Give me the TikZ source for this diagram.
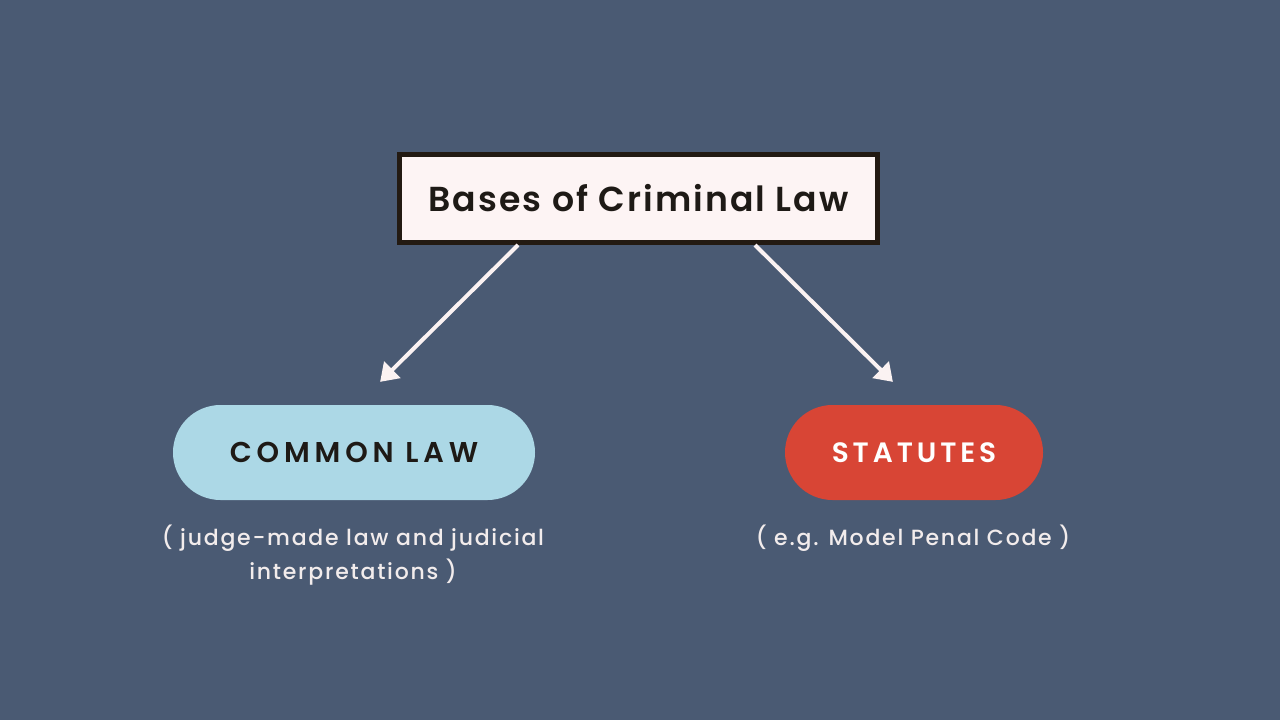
\documentclass[tikz,border=0pt]{standalone}
\usepackage{fontspec}
\setmainfont{Poppins}[BoldFont={Poppins SemiBold}]
\newfontfamily\medfont{Poppins Medium}
\usetikzlibrary{arrows.meta}
\definecolor{bg}{HTML}{4A5A73}
\definecolor{boxfill}{HTML}{FDF4F4}
\definecolor{boxline}{HTML}{231A12}
\definecolor{arrowc}{HTML}{FBF2F2}
\definecolor{pillblue}{HTML}{ACD8E6}
\definecolor{pillred}{HTML}{D84535}
\definecolor{darktext}{HTML}{1E1A16}
\definecolor{subtext}{HTML}{F2ECEC}
\tikzset{
  titlebox/.style={draw=boxline, fill=boxfill, line width=3.75pt, minimum width=358pt, minimum height=66pt, inner sep=0pt, font=\fontsize{26}{30}\selectfont\addfontfeatures{LetterSpace=6}, text=darktext},
  pill/.style={rounded corners=35.6pt, minimum height=71.25pt, inner sep=0pt},
  pillblue/.style={pill, fill=pillblue, minimum width=271.5pt, text=darktext, font=\fontsize{21.5}{24}\selectfont\addfontfeatures{LetterSpace=17}},
  pillred/.style={pill, fill=pillred, minimum width=193.5pt, text=white, font=\fontsize{21}{24}\selectfont\addfontfeatures{LetterSpace=14}},
  subnote/.style={text=subtext, align=center, font=\medfont\fontsize{16.5}{25.5}\selectfont\addfontfeatures{LetterSpace=8}},
  conn/.style={draw=arrowc, line width=3pt, -{Triangle[length=13pt,width=17pt]}, shorten >=-2pt}
}
\begin{document}
\begin{tikzpicture}[x=0.75pt,y=-0.75pt]
\fill[bg] (0,0) rectangle (1280,720);
\useasboundingbox (0,0) rectangle (1280,720);
\node[titlebox] (title) at (638.5,198.5) {\bfseries Bases of Criminal Law};
\node[pillblue] (common) at (354,452.5) {\bfseries COMMON LAW};
\node[pillred] (stat) at (914,452.5) {\bfseries STATUTES};
\node[subnote] (cnote) at (353,555) {( judge-made law and judicial\\interpretations )};
\node[subnote] (snote) at (913,538) {( e.g. Model Penal Code )};
\coordinate (lt) at (382,380);
\coordinate (rt) at (891,380);
\draw[conn] (title.south -| 518,0) -- (lt);
\draw[conn] (title.south -| 755,0) -- (rt);
\end{tikzpicture}
\end{document}
